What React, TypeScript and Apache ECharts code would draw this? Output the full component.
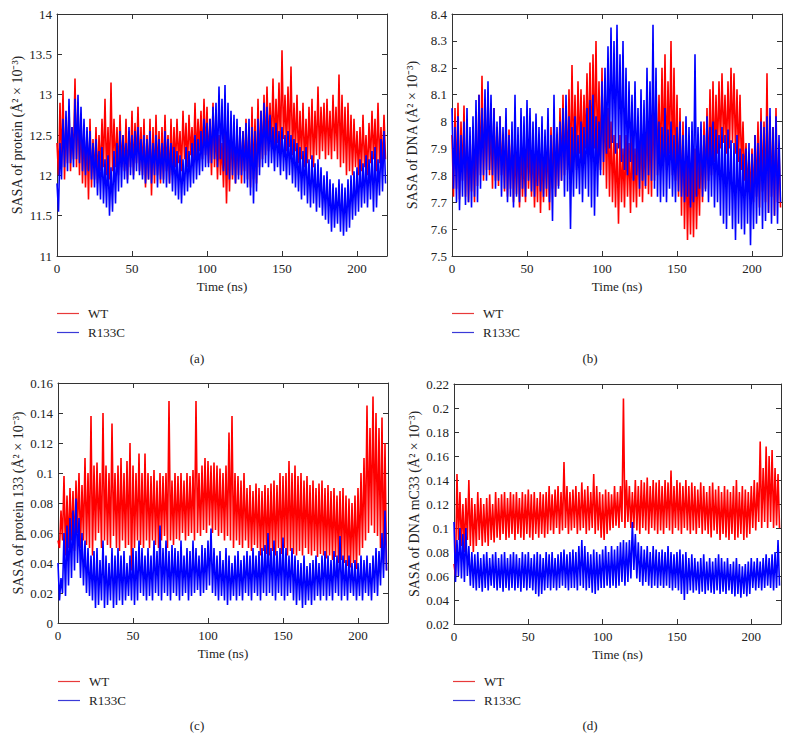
import React, { useEffect, useRef } from "react";
import * as echarts from "echarts";

// Time axis ticks (ns)
const timeTicks = [0, 50, 100, 150, 200];
const seriesNames = ["WT", "R133C"];
const captions = ["(a)", "(b)", "(c)", "(d)"];
const yTitles = [
  "SASA of protein (Å² × 10⁻³)",
  "SASA of DNA (Å² × 10⁻³)",
  "SASA of protein 133 (Å² × 10⁻³)",
  "SASA of DNA mC33 (Å² × 10⁻³)",
];
// y ranges: [min, max, interval]
const yRanges = [
  [11, 14, 0.5],
  [7.5, 8.4, 0.1],
  [0, 0.16, 0.02],
  [0.02, 0.22, 0.02],
];

// Upper excursions at t = 0,2,...,218 ns and lower excursions at t = 1,3,...,219 ns
// Panel (a): SASA of protein
const wtA_hi = [
  12.4, 12.9, 13.05, 12.7, 12.85, 12.6, 13.2, 12.9, 12.75, 12.6,
  12.55, 12.7, 12.45, 12.6, 12.5, 12.7, 12.95, 12.6, 13.15, 12.7,
  12.6, 12.75, 12.5, 12.7, 12.55, 12.8, 12.65, 12.85, 12.6, 12.7,
  12.5, 12.7, 12.6, 12.75, 12.55, 12.6, 12.75, 12.5, 12.7, 12.6,
  12.7, 12.55, 12.8, 12.65, 12.75, 12.6, 12.9, 12.7, 12.8, 12.95,
  12.85, 12.7, 12.9, 12.6, 12.5, 12.4, 12.55, 12.45, 12.6, 12.5,
  12.45, 12.6, 12.55, 12.7, 12.6, 12.85, 12.7, 12.95, 12.8, 13.0,
  13.1, 12.9, 13.2, 12.95, 13.15, 13.55, 13.0, 13.1, 13.35, 12.9,
  13.0, 12.8, 12.9, 12.7, 12.85, 12.95, 12.8, 13.1, 12.85, 12.9,
  12.95, 12.8, 13.0, 12.85, 13.25, 13.0, 12.85, 12.9, 12.75, 12.7,
  12.55, 12.6, 12.75, 12.5, 12.65, 12.8, 12.7, 12.9, 12.6, 12.75,
];
const wtA_lo = [
  12.0, 12.1, 11.95, 12.15, 12.05, 12.2, 12.1, 12.0, 11.9, 11.85,
  11.7, 11.85, 11.95, 11.9, 12.05, 12.1, 12.0, 11.95, 12.05, 12.1,
  12.0, 12.1, 12.05, 11.95, 12.1, 12.0, 12.15, 12.05, 12.0, 11.85,
  11.95, 11.75, 11.9, 12.0, 11.9, 11.95, 12.05, 11.9, 12.0, 12.1,
  12.15, 12.05, 12.2, 12.1, 12.25, 12.15, 12.2, 12.3, 12.2, 12.25,
  12.15, 12.0, 12.1, 11.95, 12.0, 11.85, 11.65, 11.8, 11.95, 11.9,
  12.0, 11.9, 12.05, 11.95, 11.85, 11.95, 11.9, 12.1, 12.2, 12.25,
  12.3, 12.35, 12.3, 12.4, 12.3, 12.45, 12.3, 12.35, 12.25, 12.3,
  12.15, 12.2, 12.1, 12.15, 12.2, 12.1, 12.25, 12.2, 12.3, 12.2,
  12.25, 12.2, 12.3, 12.2, 12.1, 12.15, 12.0, 12.05, 12.0, 12.1,
  12.0, 12.05, 12.1, 12.0, 12.15, 12.2, 12.05, 12.15, 12.1, 12.2,
];
const mutA_hi = [
  11.9, 12.4, 12.7, 12.8, 12.95, 12.6, 12.95, 13.0, 12.85, 12.7,
  12.6, 12.55, 12.4, 12.45, 12.3, 12.35, 12.2, 12.25, 12.1, 12.3,
  12.4, 12.55, 12.5, 12.4, 12.6, 12.5, 12.55, 12.6, 12.45, 12.5,
  12.45, 12.55, 12.4, 12.5, 12.45, 12.4, 12.55, 12.45, 12.4, 12.35,
  12.3, 12.25, 12.2, 12.35, 12.3, 12.4, 12.5, 12.45, 12.55, 12.7,
  12.65, 12.7, 12.85, 12.9, 13.1, 12.95, 13.12, 12.9, 12.8, 12.75,
  12.7, 12.6, 12.55, 12.65, 12.7, 12.6, 12.55, 12.7, 12.8, 12.9,
  12.85, 12.75, 12.6, 12.65, 12.55, 12.6, 12.5, 12.55, 12.5, 12.45,
  12.4, 12.35, 12.3, 12.35, 12.2, 12.25, 12.15, 12.2, 12.1, 12.0,
  12.05, 11.95, 11.9, 11.85, 11.95, 11.9, 11.85, 11.95, 12.0, 12.05,
  12.1, 12.2, 12.15, 12.25, 12.2, 12.3, 12.35, 12.2, 12.45, 12.55,
];
const mutA_lo = [
  11.55, 11.95, 12.1, 12.05, 12.15, 12.1, 12.2, 12.15, 12.05, 12.0,
  12.05, 11.95, 11.85, 11.75, 11.7, 11.65, 11.6, 11.5, 11.55, 11.65,
  11.8, 11.85, 11.95, 11.9, 12.0, 11.95, 12.05, 12.0, 11.95, 11.9,
  11.95, 11.9, 12.0, 11.85, 11.95, 11.9, 11.85, 11.9, 11.8, 11.75,
  11.7, 11.65, 11.75, 11.8, 11.85, 11.9, 11.95, 12.0, 12.05, 12.1,
  12.1, 12.15, 12.2, 12.1, 12.2, 12.05, 12.0, 11.95, 12.0, 11.9,
  11.95, 12.0, 11.9, 11.85, 11.75, 11.65, 11.8, 12.0, 12.1, 12.15,
  12.1, 12.15, 12.05, 12.1, 12.0, 12.05, 11.95, 12.0, 11.9, 11.85,
  11.8, 11.7, 11.75, 11.65, 11.6, 11.65, 11.55, 11.6, 11.5, 11.45,
  11.4, 11.3, 11.35, 11.4, 11.3, 11.25, 11.3, 11.35, 11.45, 11.5,
  11.55, 11.6, 11.65, 11.6, 11.7, 11.55, 11.6, 11.75, 11.8, 11.9,
];

// Panel (b): SASA of DNA
const wtB_hi = [
  7.95, 8.05, 8.07, 8.0, 8.06, 7.95, 7.9, 7.95, 7.98, 8.1,
  8.17, 8.05, 8.1, 8.0, 8.05, 7.98, 8.02, 7.95, 8.0, 7.97,
  7.95, 7.9, 7.95, 7.92, 7.88, 7.95, 7.9, 7.93, 7.88, 7.95,
  7.9, 7.93, 7.95, 7.98, 8.0, 7.95, 8.05, 8.1, 8.05, 8.12,
  8.21, 8.1, 8.15, 8.12, 8.1, 8.18, 8.22, 8.25, 8.3, 8.15,
  8.2, 8.1, 8.05, 8.0, 7.95, 7.92, 7.95, 7.9, 7.95, 7.92,
  7.95, 7.9, 7.98, 8.0, 7.95, 8.05, 8.0, 8.1, 8.15, 8.1,
  8.2, 8.25, 8.15, 8.3, 8.2, 8.1, 8.05, 8.0, 7.9, 7.85,
  7.88, 7.9, 7.85, 7.95, 8.0, 8.05, 8.12, 8.15, 8.1, 8.15,
  8.18, 8.1, 8.15, 8.2, 8.18, 8.12, 8.1, 8.0, 7.92, 7.88,
  7.9, 7.95, 8.0, 8.05, 8.0, 8.18, 8.02, 7.98, 8.05, 7.9,
];
const wtB_lo = [
  7.72, 7.75, 7.71, 7.78, 7.72, 7.7, 7.74, 7.7, 7.76, 7.8,
  7.78, 7.82, 7.8, 7.75, 7.78, 7.76, 7.8, 7.74, 7.72, 7.75,
  7.7, 7.73, 7.68, 7.72, 7.7, 7.75, 7.72, 7.68, 7.7, 7.66,
  7.7, 7.72, 7.67, 7.75, 7.72, 7.76, 7.78, 7.8, 7.82, 7.8,
  7.85, 7.82, 7.88, 7.85, 7.9, 7.88, 7.85, 7.9, 7.86, 7.82,
  7.8, 7.75, 7.72, 7.7, 7.68, 7.62, 7.7, 7.68, 7.72, 7.66,
  7.7, 7.68, 7.72, 7.7, 7.75, 7.73, 7.72, 7.78, 7.8, 7.82,
  7.85, 7.82, 7.88, 7.8, 7.78, 7.72, 7.65, 7.6, 7.56, 7.58,
  7.57, 7.6, 7.65, 7.7, 7.75, 7.78, 7.8, 7.85, 7.88, 7.9,
  7.92, 7.88, 7.9, 7.92, 7.88, 7.85, 7.82, 7.78, 7.74, 7.72,
  7.7, 7.72, 7.68, 7.74, 7.7, 7.66, 7.72, 7.65, 7.7, 7.68,
];
const mutB_hi = [
  8.05, 7.98, 8.02, 7.95, 8.0, 8.05, 7.98, 8.02, 8.08, 8.1,
  8.05, 8.12, 8.15, 8.1, 8.05, 8.0, 8.02, 7.98, 8.05, 7.95,
  8.0, 8.1, 7.98, 8.05, 8.02, 8.08, 8.05, 8.0, 8.03, 7.98,
  8.02, 7.97, 8.05, 7.95, 8.1, 7.98, 8.0, 8.05, 8.1, 8.02,
  7.98, 8.02, 7.95, 8.0, 7.98, 8.05, 8.08, 8.1, 8.02, 8.0,
  8.15, 8.2, 8.28, 8.35, 8.3, 8.36, 8.25, 8.3, 8.2, 8.15,
  8.1, 8.15, 8.05, 8.12, 8.08, 8.2, 8.15, 8.36, 8.2, 8.0,
  7.98, 8.05, 7.97, 8.0, 7.95, 7.98, 8.0, 7.95, 8.02, 7.98,
  8.0, 8.25, 7.98, 8.0, 7.95, 8.02, 7.98, 8.0, 7.97, 7.95,
  7.98, 7.95, 7.97, 7.93, 7.92, 7.95, 7.9, 7.88, 7.9, 7.92,
  7.88, 7.95, 7.92, 8.0, 7.98, 8.02, 8.05, 7.98, 8.02, 7.95,
];
const mutB_lo = [
  7.75, 7.7, 7.67, 7.72, 7.69, 7.7, 7.68, 7.72, 7.7, 7.75,
  7.8, 7.78, 7.82, 7.8, 7.75, 7.78, 7.72, 7.75, 7.7, 7.72,
  7.68, 7.72, 7.7, 7.75, 7.72, 7.78, 7.74, 7.72, 7.76, 7.74,
  7.72, 7.75, 7.7, 7.63, 7.72, 7.75, 7.78, 7.72, 7.74, 7.6,
  7.72, 7.75, 7.73, 7.7, 7.75, 7.72, 7.68, 7.65, 7.72, 7.8,
  7.85, 7.88, 7.9, 7.92, 7.88, 7.9, 7.85, 7.82, 7.8, 7.85,
  7.78, 7.8, 7.75, 7.78, 7.76, 7.8, 7.78, 7.75, 7.72, 7.7,
  7.72, 7.7, 7.75, 7.72, 7.7, 7.74, 7.72, 7.7, 7.72, 7.68,
  7.7, 7.72, 7.75, 7.72, 7.74, 7.7, 7.72, 7.68, 7.7, 7.65,
  7.62, 7.6, 7.65, 7.6, 7.56, 7.62, 7.6, 7.58, 7.62, 7.54,
  7.6, 7.62, 7.65, 7.6, 7.63, 7.66, 7.62, 7.65, 7.62, 7.7,
];

// Panel (c): SASA of protein residue 133
const wtC_hi = [
  0.055, 0.075, 0.098, 0.085, 0.09, 0.088, 0.095, 0.1, 0.092, 0.11,
  0.1, 0.138, 0.105, 0.107, 0.1, 0.14, 0.105, 0.1, 0.133, 0.1,
  0.105, 0.11, 0.1, 0.108, 0.12, 0.105, 0.1, 0.113, 0.1, 0.113,
  0.1, 0.098, 0.102, 0.095, 0.1, 0.098, 0.1, 0.148, 0.095, 0.1,
  0.098, 0.1, 0.095, 0.1, 0.098, 0.102, 0.148, 0.1, 0.105, 0.11,
  0.108, 0.105, 0.107, 0.105, 0.103, 0.1, 0.105, 0.127, 0.138, 0.1,
  0.098, 0.095, 0.1, 0.09, 0.092, 0.088, 0.093, 0.09, 0.088, 0.092,
  0.09, 0.093, 0.095, 0.092, 0.1, 0.098, 0.1, 0.108, 0.1, 0.105,
  0.098, 0.1, 0.095, 0.098, 0.092, 0.095, 0.09, 0.093, 0.095, 0.09,
  0.092, 0.088, 0.09, 0.085, 0.088, 0.09, 0.085, 0.083, 0.08, 0.085,
  0.09, 0.1, 0.11, 0.145, 0.13, 0.151, 0.14, 0.13, 0.137, 0.12,
];
const wtC_lo = [
  0.05, 0.055, 0.045, 0.05, 0.055, 0.048, 0.06, 0.05, 0.055, 0.052,
  0.05, 0.045, 0.055, 0.06, 0.05, 0.055, 0.052, 0.05, 0.058, 0.05,
  0.048, 0.055, 0.05, 0.052, 0.035, 0.05, 0.055, 0.052, 0.05, 0.055,
  0.05, 0.055, 0.052, 0.05, 0.055, 0.058, 0.05, 0.055, 0.052, 0.056,
  0.055, 0.06, 0.055, 0.058, 0.06, 0.055, 0.06, 0.058, 0.062, 0.06,
  0.065, 0.06, 0.062, 0.058, 0.06, 0.055, 0.058, 0.055, 0.05, 0.055,
  0.052, 0.05, 0.055, 0.05, 0.048, 0.052, 0.05, 0.045, 0.048, 0.046,
  0.045, 0.048, 0.045, 0.05, 0.046, 0.05, 0.045, 0.048, 0.046, 0.045,
  0.048, 0.045, 0.05, 0.046, 0.045, 0.048, 0.044, 0.046, 0.045, 0.043,
  0.045, 0.042, 0.044, 0.04, 0.042, 0.04, 0.038, 0.037, 0.04, 0.036,
  0.045, 0.05, 0.055, 0.06, 0.065, 0.06, 0.058, 0.05, 0.04, 0.035,
];
const mutC_hi = [
  0.04, 0.03, 0.06, 0.065, 0.07, 0.075, 0.083, 0.07, 0.06, 0.055,
  0.05, 0.045, 0.048, 0.05, 0.042, 0.055, 0.045, 0.04, 0.05, 0.045,
  0.05, 0.045, 0.048, 0.04, 0.045, 0.05, 0.048, 0.055, 0.05, 0.045,
  0.05, 0.045, 0.055, 0.048, 0.065, 0.05, 0.055, 0.048, 0.052, 0.05,
  0.048, 0.055, 0.045, 0.05, 0.048, 0.055, 0.05, 0.045, 0.052, 0.05,
  0.055, 0.063, 0.05, 0.045, 0.048, 0.042, 0.05, 0.045, 0.04, 0.045,
  0.048, 0.042, 0.045, 0.048, 0.045, 0.05, 0.045, 0.048, 0.05, 0.052,
  0.06, 0.05, 0.055, 0.048, 0.05, 0.057, 0.05, 0.045, 0.05, 0.045,
  0.042, 0.04, 0.045, 0.038, 0.04, 0.042, 0.045, 0.04, 0.045, 0.048,
  0.045, 0.042, 0.048, 0.045, 0.058, 0.045, 0.042, 0.045, 0.04, 0.042,
  0.04, 0.045, 0.042, 0.045, 0.04, 0.045, 0.05, 0.048, 0.06, 0.075,
];
const mutC_lo = [
  0.015, 0.02, 0.018, 0.025, 0.03, 0.035, 0.04, 0.03, 0.025, 0.02,
  0.018, 0.015, 0.01, 0.012, 0.015, 0.01, 0.012, 0.015, 0.01, 0.012,
  0.015, 0.012, 0.015, 0.018, 0.015, 0.012, 0.015, 0.02, 0.018, 0.015,
  0.018, 0.015, 0.02, 0.018, 0.015, 0.02, 0.018, 0.015, 0.02, 0.018,
  0.015, 0.018, 0.02, 0.015, 0.018, 0.02, 0.022, 0.018, 0.02, 0.022,
  0.025, 0.02, 0.018, 0.015, 0.018, 0.015, 0.012, 0.015, 0.018, 0.015,
  0.018, 0.015, 0.02, 0.018, 0.015, 0.02, 0.018, 0.015, 0.02, 0.018,
  0.02, 0.018, 0.015, 0.02, 0.018, 0.015, 0.018, 0.02, 0.015, 0.012,
  0.015, 0.01, 0.012, 0.015, 0.012, 0.015, 0.018, 0.015, 0.018, 0.015,
  0.018, 0.015, 0.02, 0.018, 0.015, 0.018, 0.015, 0.02, 0.018, 0.015,
  0.018, 0.015, 0.02, 0.018, 0.015, 0.02, 0.018, 0.025, 0.03, 0.035,
];

// Panel (d): SASA of DNA mC33
const wtD_hi = [
  0.07, 0.145, 0.13, 0.12, 0.125, 0.14, 0.125, 0.12, 0.13, 0.125,
  0.12, 0.125, 0.128, 0.12, 0.13, 0.125, 0.128, 0.13, 0.125, 0.13,
  0.128, 0.13, 0.125, 0.13, 0.128, 0.132, 0.128, 0.13, 0.125, 0.13,
  0.128, 0.13, 0.135, 0.128, 0.132, 0.135, 0.13, 0.155, 0.135, 0.13,
  0.132, 0.135, 0.13, 0.138, 0.132, 0.135, 0.13, 0.145, 0.135, 0.13,
  0.128, 0.132, 0.13, 0.128, 0.135, 0.13, 0.135, 0.208, 0.14, 0.135,
  0.13, 0.14, 0.135, 0.14, 0.138, 0.142, 0.135, 0.14, 0.138, 0.14,
  0.135, 0.14, 0.138, 0.148, 0.135, 0.14, 0.138, 0.135, 0.14, 0.135,
  0.138, 0.135, 0.132, 0.138, 0.135, 0.13, 0.135, 0.138, 0.132, 0.135,
  0.13, 0.135, 0.132, 0.13, 0.135, 0.14, 0.13, 0.135, 0.132, 0.13,
  0.135, 0.14, 0.138, 0.172, 0.15, 0.168, 0.16, 0.165, 0.15, 0.145,
];
const wtD_lo = [
  0.06, 0.09, 0.085, 0.08, 0.09, 0.085, 0.08, 0.085, 0.09, 0.085,
  0.088, 0.085, 0.09, 0.088, 0.092, 0.09, 0.095, 0.09, 0.092, 0.095,
  0.09, 0.095, 0.092, 0.09, 0.095, 0.092, 0.09, 0.095, 0.092, 0.095,
  0.092, 0.095, 0.098, 0.095, 0.1, 0.095, 0.098, 0.1, 0.095, 0.098,
  0.1, 0.095, 0.098, 0.1, 0.095, 0.098, 0.1, 0.095, 0.098, 0.092,
  0.09, 0.095, 0.098, 0.1, 0.102, 0.1, 0.105, 0.1, 0.105, 0.1,
  0.1, 0.098, 0.095, 0.1, 0.098, 0.095, 0.1, 0.098, 0.095, 0.098,
  0.095, 0.1, 0.098, 0.095, 0.1, 0.098, 0.095, 0.1, 0.098, 0.095,
  0.098, 0.095, 0.1, 0.095, 0.098, 0.095, 0.092, 0.098, 0.095, 0.09,
  0.095, 0.092, 0.09, 0.095, 0.09, 0.092, 0.095, 0.09, 0.092, 0.095,
  0.1, 0.098, 0.105, 0.1, 0.105, 0.1, 0.105, 0.1, 0.102, 0.1,
];
const mutD_hi = [
  0.105, 0.09, 0.1, 0.095, 0.1, 0.085, 0.08, 0.078, 0.08, 0.075,
  0.078, 0.08, 0.075, 0.078, 0.08, 0.075, 0.078, 0.08, 0.075, 0.078,
  0.08, 0.078, 0.075, 0.08, 0.078, 0.08, 0.075, 0.078, 0.08, 0.078,
  0.075, 0.08, 0.078, 0.08, 0.075, 0.078, 0.08, 0.082, 0.078, 0.08,
  0.082, 0.08, 0.085, 0.09, 0.085, 0.08, 0.078, 0.082, 0.08, 0.078,
  0.082, 0.085, 0.08, 0.085, 0.082, 0.085, 0.088, 0.09, 0.088, 0.09,
  0.105, 0.095, 0.088, 0.085, 0.082, 0.085, 0.08, 0.085, 0.082, 0.08,
  0.082, 0.08, 0.085, 0.08, 0.078, 0.08, 0.082, 0.078, 0.08, 0.075,
  0.078, 0.075, 0.072, 0.075, 0.078, 0.072, 0.075, 0.072, 0.075, 0.078,
  0.075, 0.072, 0.075, 0.07, 0.072, 0.075, 0.07, 0.068, 0.07, 0.072,
  0.075, 0.072, 0.075, 0.072, 0.075, 0.078, 0.075, 0.078, 0.08, 0.09,
];
const mutD_lo = [
  0.055, 0.06, 0.058, 0.055, 0.06, 0.052, 0.05, 0.048, 0.05, 0.047,
  0.05, 0.048, 0.052, 0.05, 0.048, 0.05, 0.047, 0.05, 0.048, 0.05,
  0.048, 0.05, 0.047, 0.05, 0.048, 0.05, 0.048, 0.045, 0.043, 0.045,
  0.048, 0.05, 0.048, 0.05, 0.048, 0.05, 0.052, 0.05, 0.048, 0.05,
  0.05, 0.048, 0.052, 0.05, 0.048, 0.05, 0.046, 0.045, 0.048, 0.05,
  0.05, 0.052, 0.05, 0.052, 0.05, 0.052, 0.055, 0.052, 0.055, 0.058,
  0.065, 0.058, 0.055, 0.052, 0.055, 0.052, 0.05, 0.052, 0.05, 0.052,
  0.05, 0.052, 0.05, 0.048, 0.05, 0.048, 0.045, 0.04, 0.045, 0.048,
  0.046, 0.048, 0.045, 0.047, 0.045, 0.048, 0.046, 0.045, 0.048, 0.045,
  0.047, 0.045, 0.048, 0.045, 0.043, 0.045, 0.042, 0.045, 0.043, 0.045,
  0.05, 0.048, 0.05, 0.048, 0.05, 0.052, 0.05, 0.048, 0.05, 0.052,
];

const panelData = [
  [wtA_hi, wtA_lo, mutA_hi, mutA_lo],
  [wtB_hi, wtB_lo, mutB_hi, mutB_lo],
  [wtC_hi, wtC_lo, mutC_hi, mutC_lo],
  [wtD_hi, wtD_lo, mutD_hi, mutD_lo],
];

// Build time series (t, value) from the upper (even ns) and lower (odd ns) excursions
function toSeries(hi: number[], lo: number[]) {
  const pts: number[][] = [];
  for (let i = 0; i < hi.length; i++) {
    pts.push([timeTicks[0] + 2 * i, hi[i]]);
    if (i < lo.length) pts.push([timeTicks[0] + 2 * i + 1, lo[i]]);
  }
  return pts;
}

const FONT = '"Liberation Serif", "Times New Roman", serif';
const RED = "#ff0000";
const BLUE = "#0000ff";
const AXIS = "#333333";

// layout (pixels)
const grids = [
  { left: 57, top: 14, width: 330, height: 242 },
  { left: 452, top: 14, width: 330, height: 242 },
  { left: 58, top: 383, width: 330, height: 240 },
  { left: 454, top: 384, width: 327, height: 240 },
];
const captionPos = [
  [197, 358],
  [590, 358],
  [197, 725],
  [590, 725],
];
const legendPos = [
  [57, 307],
  [452, 307],
  [58, 675],
  [453, 675],
];

export default function App() {
  const ref = useRef<HTMLDivElement>(null);
  useEffect(() => {
    if (!ref.current) return;
    const chart = echarts.init(ref.current, null, { renderer: "svg" });
    const xAxis: any[] = [];
    const yAxis: any[] = [];
    const series: any[] = [];
    const legend: any[] = [];
    const graphic: any[] = [];
    grids.forEach((g, i) => {
      const [ymin, ymax, yint] = yRanges[i];
      const lineStyle = { color: AXIS, width: 1 };
      xAxis.push({
        type: "value",
        gridIndex: i,
        min: 0,
        max: 220,
        interval: 50,
        position: "bottom",
        name: "Time (ns)",
        nameLocation: "middle",
        nameGap: 24,
        nameTextStyle: { fontFamily: FONT, fontSize: 13, color: "#222" },
        axisLine: { show: true, onZero: false, lineStyle },
        axisTick: { show: true, inside: true, length: 5, lineStyle },
        axisLabel: {
          fontFamily: FONT,
          fontSize: 13,
          color: "#222",
          margin: 6,
          showMaxLabel: false,
        },
        splitLine: { show: false },
      });
      yAxis.push({
        type: "value",
        gridIndex: i,
        min: ymin,
        max: ymax,
        interval: yint,
        position: "left",
        name: yTitles[i],
        nameLocation: "middle",
        nameGap: 33,
        nameRotate: 90,
        nameTextStyle: { fontFamily: FONT, fontSize: 14, color: "#222" },
        axisLine: { show: true, onZero: false, lineStyle },
        axisTick: { show: true, inside: true, length: 5, lineStyle },
        axisLabel: { fontFamily: FONT, fontSize: 13, color: "#222", margin: 5 },
        splitLine: { show: false },
      });
    });
    grids.forEach((g, i) => {
      const [ymin, ymax, yint] = yRanges[i];
      const lineStyle = { color: AXIS, width: 1 };
      xAxis.push({
        type: "value",
        gridIndex: i,
        min: 0,
        max: 220,
        interval: 50,
        position: "top",
        axisLine: { show: true, onZero: false, lineStyle },
        axisTick: { show: true, inside: true, length: 5, lineStyle },
        axisLabel: { show: false },
        splitLine: { show: false },
      });
      yAxis.push({
        type: "value",
        gridIndex: i,
        min: ymin,
        max: ymax,
        interval: yint,
        position: "right",
        axisLine: { show: true, onZero: false, lineStyle },
        axisTick: { show: true, inside: true, length: 5, lineStyle },
        axisLabel: { show: false },
        splitLine: { show: false },
      });
    });
    panelData.forEach((d, i) => {
      const [wtHi, wtLo, mHi, mLo] = d;
      series.push({
        type: "line",
        name: seriesNames[0],
        xAxisIndex: i,
        yAxisIndex: i,
        data: toSeries(wtHi, wtLo),
        showSymbol: false,
        symbol: "none",
        lineStyle: { color: RED, width: 1.6 },
        itemStyle: { color: RED },
        z: 2,
      });
      series.push({
        type: "line",
        name: seriesNames[1],
        xAxisIndex: i,
        yAxisIndex: i,
        data: toSeries(mHi, mLo),
        showSymbol: false,
        symbol: "none",
        lineStyle: { color: BLUE, width: 1.6 },
        itemStyle: { color: BLUE },
        z: 3,
      });
      legend.push({
        left: legendPos[i][0],
        top: legendPos[i][1],
        orient: "vertical",
        icon: "rect",
        itemWidth: 22,
        itemHeight: 1.2,
        itemGap: 6,
        selectedMode: false,
        padding: 0,
        data: [
          { name: seriesNames[0], itemStyle: { color: "#e83a3a" } },
          { name: seriesNames[1], itemStyle: { color: "#3a3ad8" } },
        ],
        textStyle: { fontFamily: FONT, fontSize: 13, color: "#222", padding: [0, 0, 0, 4] },
      });
      graphic.push({
        type: "text",
        x: captionPos[i][0],
        y: captionPos[i][1],
        style: {
          text: captions[i],
          fontFamily: FONT,
          fontSize: 13,
          fill: "#222",
          textAlign: "center",
          textVerticalAlign: "middle",
        },
      });
    });
    chart.setOption({
      animation: false,
      backgroundColor: "#ffffff",
      grid: grids.map((g) => ({ ...g, containLabel: false })),
      xAxis,
      yAxis,
      series,
      legend,
      graphic,
    });
    return () => chart.dispose();
  }, []);
  return (
    <div
      ref={ref}
      style={{ position: "fixed", left: 0, top: 0, width: 790, height: 741, background: "#fff" }}
    />
  );
}
